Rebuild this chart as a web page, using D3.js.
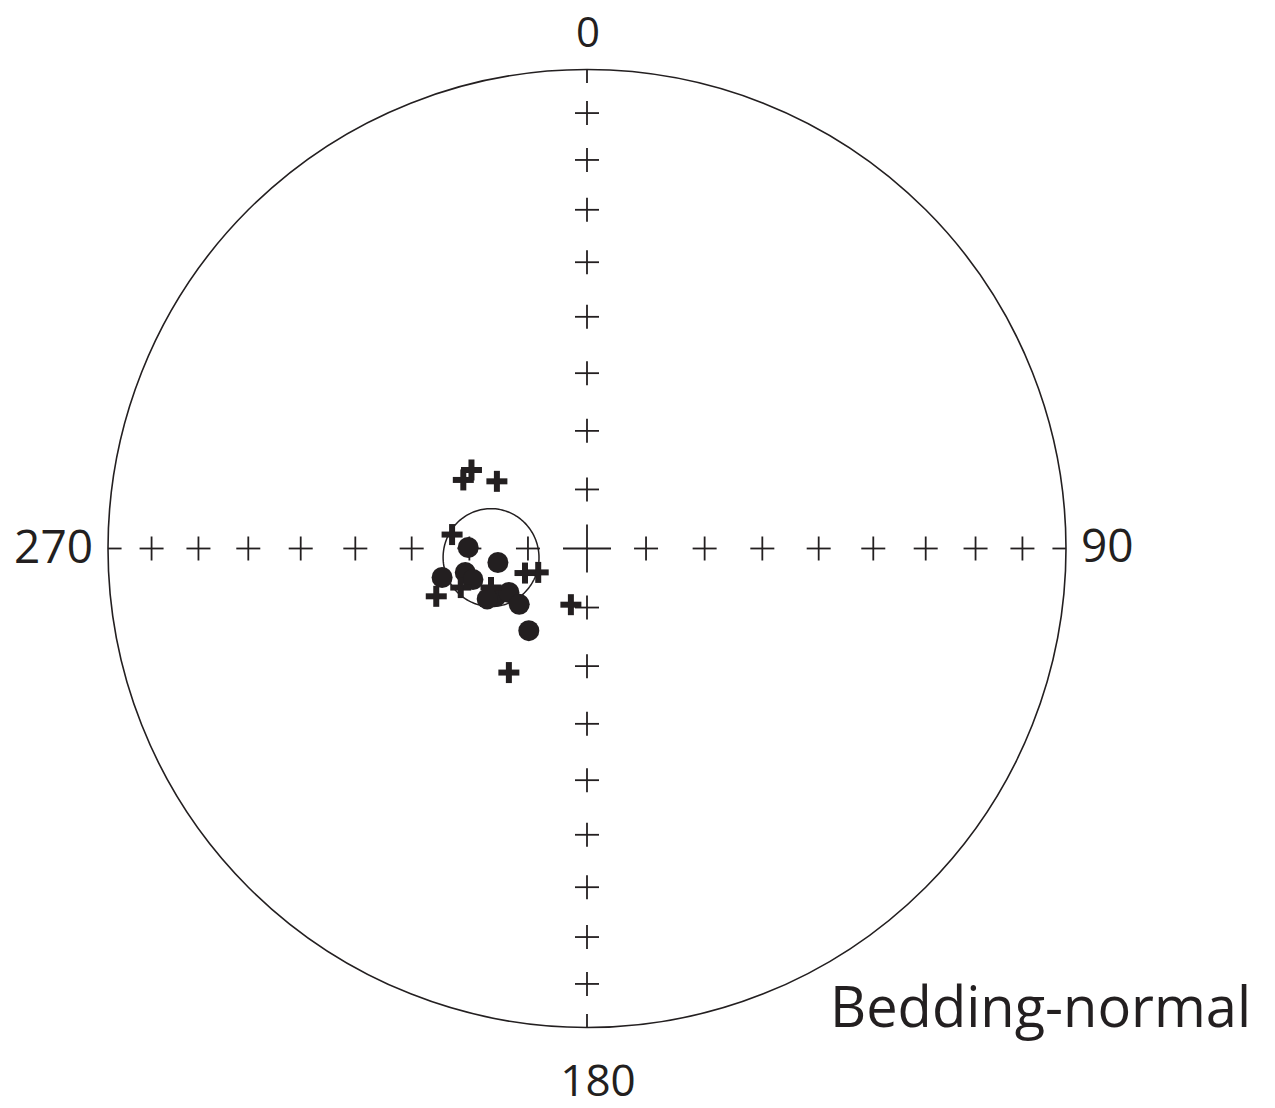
<!DOCTYPE html>
<html>
<head>
<meta charset="utf-8">
<script src="https://cdn.jsdelivr.net/npm/d3@7"></script>
<style>
  body { margin: 0; background: #fff; }
  text { font-family: "Open Sans", sans-serif; fill: #231f20; }
</style>
</head>
<body>
<div id="chart"></div>
<script>
var w = 1275;
var h = 1108;
var cx = 587;
var cy = 548.5;
var R = 479;
var ink = "#231f20";

// lower hemisphere directions (solid dots)
var downDec = [270.5, 261.1, 258.7, 258.9, 254.8, 242.2, 243.2, 240.6, 230.5, 215.3];
var downInc = [69.8, 74.7, 64.8, 68.9, 69.9, 72.5, 71.0, 74.8, 75.1, 72.9];
// upper hemisphere directions (crosses)
var upDec = [304.2, 299.0, 306.7, 275.9, 248.4, 243.9, 252.4, 196.0, 212.2, 247.9, 252.8];
var upInc = [-66.2, -65.9, -70.9, -66.9, -78.7, -80.8, -63.0, -80.1, -65.0, -72.4, -67.5];
// mean direction and alpha95
var meanDec = 264.6;
var meanInc = 73.6;
var a95 = 8.2;

var gridDec = [0, 90, 180, 270];
var gridInc = [80, 70, 60, 50, 40, 30, 20, 10];
var axisLabels = ["0", "90", "180", "270"];

var xScale = d3.scaleLinear().domain([-1, 1]).range([cx - R, cx + R]);
var yScale = d3.scaleLinear().domain([-1, 1]).range([cy + R, cy - R]);

// equal-area (Schmidt) projection
function proj(dec, inc) {
  var rho = Math.SQRT2 * Math.sin(((90 - Math.abs(inc)) / 2) * Math.PI / 180);
  var d = dec * Math.PI / 180;
  return [xScale(rho * Math.sin(d)), yScale(rho * Math.cos(d))];
}

var svg = d3.select("#chart").append("svg").attr("width", w).attr("height", h);

svg.append("circle")
  .attr("cx", xScale(0))
  .attr("cy", yScale(0))
  .attr("r", xScale(1) - xScale(0))
  .attr("fill", "none")
  .attr("stroke", ink)
  .attr("stroke-width", 1.6);

function cross(g, p, s, sw) {
  g.append("line").attr("x1", p[0] - s).attr("x2", p[0] + s).attr("y1", p[1]).attr("y2", p[1])
    .attr("stroke", ink).attr("stroke-width", sw);
  g.append("line").attr("x1", p[0]).attr("x2", p[0]).attr("y1", p[1] - s).attr("y2", p[1] + s)
    .attr("stroke", ink).attr("stroke-width", sw);
}

var grid = svg.append("g");
gridDec.forEach(function (dec) {
  gridInc.forEach(function (inc) {
    cross(grid, proj(dec, inc), 12, 1.8);
  });
  // perimeter tick
  var p0 = proj(dec, 0);
  var p1 = proj(dec, 3.2);
  grid.append("line")
    .attr("x1", p0[0]).attr("y1", p0[1])
    .attr("x2", p1[0]).attr("y2", p1[1])
    .attr("stroke", ink).attr("stroke-width", 1.8);
});
cross(grid, proj(0, 90), 24, 1.8);

// alpha95 circle
var ring = d3.geoCircle().center([meanDec - 360, meanInc]).radius(a95).precision(2)();
svg.append("path")
  .attr("d", d3.line()(ring.coordinates[0].map(function (c) { return proj(c[0], c[1]); })) + "Z")
  .attr("fill", "none")
  .attr("stroke", ink)
  .attr("stroke-width", 1.5);

svg.selectAll("circle.down")
  .data(d3.range(downDec.length))
  .enter()
  .append("circle")
  .attr("class", "down")
  .attr("cx", function (i) { return proj(downDec[i], downInc[i])[0]; })
  .attr("cy", function (i) { return proj(downDec[i], downInc[i])[1]; })
  .attr("r", 10.5)
  .attr("fill", ink);

var ups = svg.append("g");
d3.range(upDec.length).forEach(function (i) {
  cross(ups, proj(upDec[i], upInc[i]), 10.5, 6);
});

// labels
svg.append("text").attr("x", 588).attr("y", 47).attr("text-anchor", "middle")
  .attr("font-size", 42).text(axisLabels[0]);
svg.append("text").attr("x", 1081).attr("y", 562).attr("text-anchor", "start")
  .attr("font-size", 46).text(axisLabels[1]);
svg.append("text").attr("x", 598).attr("y", 1096).attr("text-anchor", "middle")
  .attr("font-size", 44).text(axisLabels[2]);
svg.append("text").attr("x", 93).attr("y", 563).attr("text-anchor", "end")
  .attr("font-size", 46).text(axisLabels[3]);
svg.append("text").attr("x", 830).attr("y", 1027).attr("text-anchor", "start")
  .attr("font-size", 56).text("Bedding-normal");
</script>
</body>
</html>
